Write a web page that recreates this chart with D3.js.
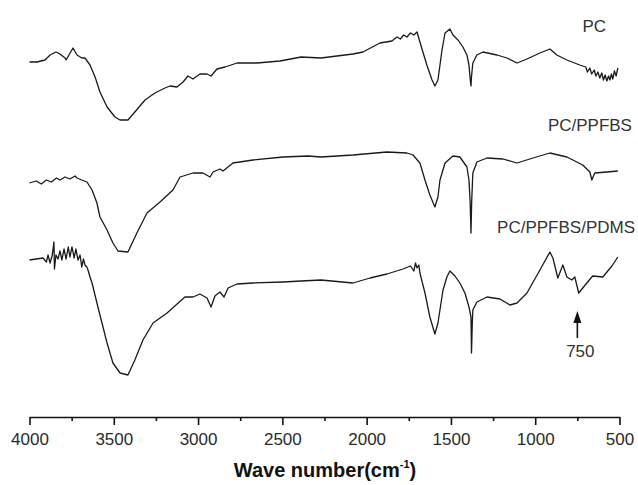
<!DOCTYPE html>
<html>
<head>
<meta charset="utf-8">
<script src="https://cdn.jsdelivr.net/npm/d3@7"></script>
<style>
  body { margin: 0; background: #fff; }
  text { font-family: "Liberation Sans", Arial, sans-serif; }
</style>
</head>
<body>
<script>
var width = 638;
var height = 485;

// wave numbers (cm-1) and transmittance (a.u., offset per curve)
var pc = [
  [4000,355],[3956,355],[3908,357],[3878,362],[3843,365],[3819,363],[3789,359],[3783,357],
  [3742,369],[3718,362],[3689,359],[3671,359],[3641,352],[3611,340],[3582,325],[3540,310],
  [3493,300],[3463,297],[3416,297],[3375,305],[3315,317],[3256,324],[3196,329],[3167,331],
  [3125,330],[3089,335],[3060,341],[3030,338],[2989,343],[2947,343],[2923,341],[2888,348],
  [2840,350],[2769,354],[2650,354],[2514,356],[2389,360],[2271,359],[2081,363],[2022,365],
  [1921,374],[1850,376],[1820,380],[1800,378],[1780,382],[1761,380],[1740,384],[1720,382],
  [1701,385],[1684,375],[1643,352],[1612,337],[1595,331],[1577,337],[1553,367],[1535,384],
  [1506,388],[1488,382],[1458,377],[1429,370],[1405,362],[1393,352],[1384,335],[1381,331],
  [1378,340],[1370,354],[1346,362],[1310,365],[1227,362],[1167,359],[1108,354],[1049,358],
  [972,364],[913,368],[872,362],[812,357],[736,352],[700,350],[690,345],[676,349],[665,343],
  [650,347],[640,341],[628,345],[617,339],[605,344],[595,337],[585,342],[575,336],[565,341],
  [557,337],[548,343],[540,338],[530,346],[520,341],[510,349]
];

var pcPpfbs = [
  [4000,234],[3960,236],[3930,233],[3900,237],[3870,235],[3840,239],[3819,237],[3790,240],
  [3760,238],[3730,241],[3718,239],[3690,237],[3659,235],[3629,227],[3600,214],[3582,200],
  [3540,187],[3505,174],[3475,166],[3416,165],[3363,184],[3303,204],[3226,215],[3149,227],
  [3107,240],[3030,244],[2971,244],[2929,240],[2911,245],[2870,248],[2852,246],[2793,254],
  [2674,257],[2496,260],[2348,261],[2271,260],[2081,262],[1880,265],[1761,264],[1725,262],
  [1684,254],[1654,237],[1625,222],[1595,210],[1577,220],[1565,237],[1535,254],[1488,261],
  [1447,260],[1405,250],[1393,237],[1386,215],[1381,184],[1377,215],[1370,244],[1346,255],
  [1286,259],[1191,258],[1108,254],[1013,259],[913,264],[812,260],[718,252],[676,245],
  [664,237],[647,244],[575,245],[510,246]
];

var pcPpfbsPdms = [
  [4000,157],[3920,159],[3900,155],[3890,162],[3878,154],[3866,161],[3855,175],[3852,148],
  [3843,162],[3831,158],[3819,166],[3808,157],[3795,168],[3783,158],[3770,170],[3760,160],
  [3748,170],[3735,159],[3725,168],[3712,157],[3700,162],[3690,150],[3680,158],[3671,152],
  [3660,150],[3653,147],[3641,140],[3629,134],[3600,114],[3570,94],[3540,74],[3505,54],
  [3463,44],[3416,42],[3375,57],[3327,77],[3267,94],[3184,104],[3078,120],[3030,120],
  [2989,123],[2947,119],[2923,110],[2900,121],[2870,125],[2846,120],[2822,129],[2769,133],
  [2674,134],[2496,135],[2389,136],[2271,137],[2081,134],[1980,139],[1880,143],[1784,148],
  [1740,151],[1720,146],[1710,154],[1701,149],[1690,152],[1684,144],[1654,124],[1625,100],
  [1595,83],[1577,94],[1547,127],[1524,140],[1506,146],[1476,141],[1447,134],[1417,124],
  [1393,110],[1381,100],[1378,64],[1373,95],[1370,107],[1346,115],[1286,120],[1209,118],
  [1150,112],[1108,114],[1049,124],[972,147],[913,165],[895,159],[866,139],[836,152],
  [812,140],[783,137],[765,140],[742,124],[694,134],[659,141],[599,140],[545,151],[510,160]
];

var series = [pc, pcPpfbs, pcPpfbsPdms];
var seriesNames = ["PC", "PC/PPFBS", "PC/PPFBS/PDMS"];
var nameAt = [580, 426, 408];      // wave number where each name ends
var nameLevel = [385, 286, 184];   // a.u. height of each name baseline
var majorTicks = [4000, 3500, 3000, 2500, 2000, 1500, 1000, 500];
var minorTicks = [3750, 3250, 2750, 2250, 1750, 1250, 750];
var markWave = 750;
var markFrom = 79, markTo = 106;

var svg = d3.select("body")
    .append("svg")
    .attr("width", width)
    .attr("height", height);

var x = d3.scaleLinear().domain([4000, 500]).range([29.5, 619.5]);
var y = d3.scaleLinear().domain([0, 417]).range([417, 0]);

var line = d3.line()
    .x(function(d) { return x(d[0]); })
    .y(function(d) { return y(d[1]); });

svg.selectAll(".curve")
    .data(series)
    .enter().append("path")
    .attr("class", "curve")
    .attr("d", line)
    .attr("fill", "none")
    .attr("stroke", "#1a1a1a")
    .attr("stroke-width", 1.3)
    .attr("stroke-linejoin", "round");

// axis
var axis = svg.append("g")
    .attr("transform", "translate(0," + y(0) + ")")
    .call(d3.axisBottom(x).tickValues(majorTicks).tickFormat(d3.format("d"))
        .tickSize(8).tickSizeOuter(0).tickPadding(8));
axis.select(".domain").attr("stroke", "#111").attr("stroke-width", 1.6);
axis.selectAll(".tick line").attr("stroke", "#111").attr("stroke-width", 1.6);
axis.selectAll(".tick text")
    .attr("font-size", 17)
    .attr("fill", "#2a2a2a")
    .style("font-family", "'Liberation Sans', Arial, sans-serif");

svg.append("g")
    .attr("transform", "translate(0," + y(0) + ")")
    .call(d3.axisBottom(x).tickValues(minorTicks).tickSize(4).tickSizeOuter(0).tickFormat(""))
    .call(function(g) { g.select(".domain").remove(); })
    .selectAll(".tick line").attr("stroke", "#111").attr("stroke-width", 1.6);

// axis title
var title = svg.append("text")
    .attr("x", 325)
    .attr("y", 477)
    .attr("text-anchor", "middle")
    .attr("font-size", 20)
    .attr("font-weight", "bold")
    .attr("fill", "#111");
title.append("tspan").text("Wave number(cm");
title.append("tspan").attr("font-size", 11).attr("dy", -9).text("-1");
title.append("tspan").attr("dy", 9).text(")");

// curve names
svg.selectAll(".name")
    .data(seriesNames)
    .enter().append("text")
    .attr("class", "name")
    .attr("x", function(d, i) { return x(nameAt[i]); })
    .attr("y", function(d, i) { return y(nameLevel[i]); })
    .attr("text-anchor", "end")
    .attr("font-size", 17)
    .attr("fill", "#333")
    .text(function(d) { return d; });

// 750 marker
svg.append("line")
    .attr("x1", x(markWave)).attr("x2", x(markWave))
    .attr("y1", y(markFrom)).attr("y2", y(markTo) + 10)
    .attr("stroke", "#111")
    .attr("stroke-width", 1.6);
svg.append("path")
    .attr("d", "M" + (x(markWave) - 4) + "," + (y(markTo) + 12) + "L" + x(markWave) + "," + y(markTo) + "L" + (x(markWave) + 4) + "," + (y(markTo) + 12) + "Z")
    .attr("fill", "#111");

svg.append("text")
    .attr("x", x(markWave) + 3)
    .attr("y", y(markFrom) + 19)
    .attr("text-anchor", "middle")
    .attr("font-size", 17)
    .attr("fill", "#333")
    .text(markWave);
</script>
</body>
</html>
